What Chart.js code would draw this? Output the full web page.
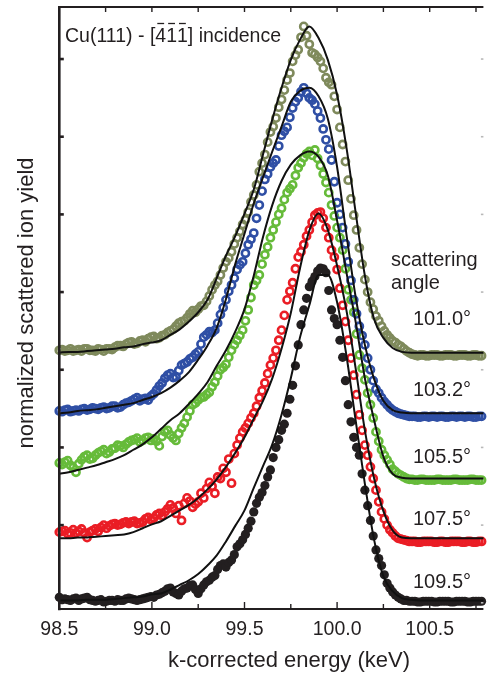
<!DOCTYPE html>
<html>
<head>
<meta charset="utf-8">
<script src="https://cdn.jsdelivr.net/npm/chart.js@4.4.1/dist/chart.umd.min.js"></script>
<style>
  html, body { margin: 0; padding: 0; background: #ffffff; }
  canvas { display: block; }
</style>
</head>
<body>
<canvas id="c" width="490" height="673"></canvas>
<script>
// ---------- data ----------
// measured points: two interleaved energy readings per spectrum
const energyA = [98.50,98.53,98.56,98.59,98.62,98.65,98.68,98.71,98.74,98.77,
  98.80,98.83,98.86,98.89,98.92,98.95,98.98,99.01,99.04,99.07,
  99.10,99.13,99.16,99.19,99.22,99.25,99.28,99.31,99.34,99.37,
  99.40,99.43,99.46,99.49,99.52,99.55,99.58,99.61,99.64,99.67,
  99.70,99.73,99.76,99.79,99.82,99.85,99.88,99.91,99.94,99.97,
  100.00,100.03,100.06,100.09,100.12,100.15,100.18,100.21,100.24,100.27,
  100.30,100.33,100.36,100.39,100.42,100.45,100.48,100.51,100.54,100.57,
  100.60,100.63,100.66,100.69,100.72,100.75,100.78];
const energyB = [98.515,98.545,98.575,98.605,98.635,98.665,98.695,98.725,98.755,98.785,
  98.815,98.845,98.875,98.905,98.935,98.965,98.995,99.025,99.055,99.085,
  99.115,99.145,99.175,99.205,99.235,99.265,99.295,99.325,99.355,99.385,
  99.415,99.445,99.475,99.505,99.535,99.565,99.595,99.625,99.655,99.685,
  99.715,99.745,99.775,99.805,99.835,99.865,99.895,99.925,99.955,99.985,
  100.015,100.045,100.075,100.105,100.135,100.165,100.195,100.225,100.255,100.285,
  100.315,100.345,100.375,100.405,100.435,100.465,100.495,100.525,100.555,100.585,
  100.615,100.645,100.675,100.705,100.735,100.765];

// fitted curves
const fitEnergy = [98.50,98.55,98.60,98.65,98.70,98.75,98.80,98.85,98.90,98.95,
  99.00,99.05,99.10,99.15,99.20,99.25,99.30,99.35,99.40,99.45,
  99.50,99.55,99.60,99.65,99.70,99.75,99.80,99.85,99.90,99.95,
  100.00,100.05,100.10,100.15,100.20,100.25,100.30,100.35,100.40,100.45,
  100.50,100.55,100.60,100.65,100.70,100.75,100.80];

// 101.0°
const points101a = [3.25,3.24,3.27,3.25,3.24,3.27,3.25,3.27,3.24,3.27,
  3.29,3.31,3.33,3.36,3.34,3.38,3.40,3.43,3.41,3.45,
  3.50,3.56,3.62,3.67,3.76,3.78,3.83,3.95,4.09,4.22,
  4.39,4.52,4.70,4.87,5.03,5.25,5.55,5.77,6.06,6.24,
  6.48,6.73,6.97,7.12,7.42,7.19,7.06,6.97,6.76,6.67,
  6.35,5.90,5.44,4.99,4.57,4.16,3.87,3.69,3.56,3.45,
  3.37,3.32,3.27,3.22,3.19,3.19,3.18,3.19,3.19,3.18,
  3.19,3.18,3.19,3.19,3.18,3.19,3.18];
const points101b = [3.26,3.25,3.24,3.26,3.27,3.25,3.24,3.26,3.27,3.26,
  3.31,3.30,3.35,3.33,3.37,3.36,3.42,3.40,3.44,3.48,
  3.52,3.60,3.63,3.72,3.74,3.82,3.88,4.03,4.14,4.31,
  4.44,4.62,4.78,4.93,5.16,5.38,5.66,5.93,6.13,6.38,
  6.60,6.82,7.05,7.28,7.30,7.08,7.02,6.88,6.70,6.52,
  6.12,5.68,5.20,4.80,4.36,4.00,3.78,3.63,3.50,3.41,
  3.35,3.30,3.24,3.20,3.18,3.19,3.18,3.19,3.18,3.19,
  3.19,3.18,3.19,3.18,3.19,3.18];
const fit101 = [3.22,3.23,3.23,3.24,3.25,3.26,3.27,3.29,3.30,3.33,
  3.35,3.38,3.45,3.52,3.62,3.74,3.90,4.18,4.47,4.72,
  5.01,5.32,5.77,6.22,6.63,6.99,7.25,7.42,7.27,6.99,
  6.54,5.87,5.03,4.21,3.65,3.41,3.28,3.23,3.22,3.22,
  3.22,3.22,3.22,3.22,3.22,3.22,3.22];

// 103.2°
const points103a = [2.47,2.48,2.46,2.48,2.49,2.48,2.51,2.49,2.52,2.51,
  2.53,2.52,2.57,2.60,2.64,2.62,2.61,2.69,2.79,2.89,
  2.95,2.91,3.06,3.10,3.16,3.23,3.42,3.49,3.51,3.71,
  3.90,4.09,4.29,4.39,4.61,4.76,5.12,5.45,5.61,5.70,
  6.02,6.12,6.37,6.50,6.63,6.50,6.42,6.24,5.96,5.70,
  5.15,4.83,4.39,3.90,3.56,3.32,3.00,2.75,2.64,2.55,
  2.48,2.44,2.42,2.40,2.40,2.39,2.40,2.40,2.39,2.40,
  2.39,2.40,2.40,2.39,2.40,2.39,2.40];
const points103b = [2.46,2.49,2.47,2.47,2.50,2.49,2.50,2.51,2.50,2.53,
  2.51,2.55,2.58,2.62,2.60,2.63,2.66,2.74,2.83,2.93,
  2.90,2.99,3.08,3.14,3.20,3.33,3.45,3.48,3.60,3.80,
  4.01,4.18,4.35,4.50,4.68,4.95,5.30,5.52,5.66,5.88,
  6.07,6.25,6.45,6.58,6.56,6.47,6.33,6.10,5.84,5.42,
  5.00,4.62,4.15,3.72,3.44,3.15,2.86,2.70,2.59,2.51,
  2.46,2.43,2.41,2.40,2.39,2.40,2.39,2.40,2.40,2.39,
  2.40,2.39,2.40,2.40,2.39,2.40];
const fit103 = [2.44,2.45,2.47,2.48,2.49,2.51,2.53,2.55,2.57,2.61,
  2.65,2.70,2.77,2.86,2.97,3.13,3.31,3.54,3.91,4.36,
  4.75,5.14,5.48,5.81,6.13,6.45,6.59,6.63,6.52,6.23,
  5.61,4.75,3.94,3.32,2.88,2.60,2.48,2.45,2.44,2.44,
  2.44,2.44,2.44,2.44,2.44,2.44,2.44];

// 105.5°
const points105a = [1.80,1.81,1.77,1.68,1.84,1.90,1.86,1.93,1.97,1.94,
  1.99,2.02,2.04,2.09,2.12,2.09,2.13,2.11,2.02,2.20,
  2.16,2.09,2.25,2.39,2.55,2.61,2.65,2.71,2.84,3.00,
  3.07,3.25,3.38,3.51,3.77,4.09,4.22,4.48,4.70,4.90,
  5.08,5.28,5.38,5.60,5.73,5.81,5.83,5.63,5.41,5.12,
  4.83,4.54,4.03,3.74,3.19,2.87,2.55,2.20,1.97,1.84,
  1.72,1.66,1.62,1.59,1.58,1.59,1.58,1.58,1.59,1.58,
  1.58,1.59,1.58,1.58,1.59,1.58,1.58];
const points105b = [1.78,1.83,1.74,1.79,1.88,1.85,1.90,1.95,1.92,1.98,
  2.03,2.00,2.07,2.10,2.07,2.12,2.09,2.08,2.14,2.22,
  2.12,2.18,2.31,2.47,2.57,2.64,2.68,2.78,2.92,3.03,
  3.16,3.32,3.44,3.63,3.93,4.15,4.36,4.58,4.80,5.00,
  5.19,5.33,5.50,5.66,5.78,5.76,5.72,5.52,5.28,4.98,
  4.70,4.30,3.90,3.46,3.02,2.70,2.38,2.08,1.90,1.78,
  1.69,1.64,1.60,1.59,1.58,1.59,1.58,1.58,1.59,1.58,
  1.58,1.59,1.58,1.58,1.59,1.58];
const fit105 = [1.66,1.68,1.71,1.74,1.77,1.81,1.85,1.90,1.97,2.04,
  2.13,2.24,2.35,2.44,2.56,2.69,2.84,3.05,3.25,3.49,
  3.78,4.21,4.71,5.12,5.43,5.64,5.76,5.81,5.74,5.50,
  4.92,4.26,3.62,2.89,2.35,1.88,1.66,1.61,1.60,1.60,
  1.60,1.60,1.60,1.60,1.60,1.60,1.60];

// 107.5°
const points107a = [0.91,0.93,0.90,0.90,0.95,0.84,0.93,0.92,1.00,0.99,
  1.02,1.01,1.04,1.04,1.02,1.04,1.10,1.09,1.15,1.17,
  1.26,1.15,1.06,1.35,1.23,1.30,1.35,1.55,1.41,1.60,
  1.68,1.54,2.03,2.20,2.31,2.44,2.64,2.83,3.06,3.25,
  3.51,3.90,4.12,4.45,4.61,4.80,4.99,5.03,4.83,4.54,
  4.29,3.83,3.38,2.93,2.42,2.03,1.75,1.45,1.17,1.00,
  0.90,0.83,0.81,0.79,0.79,0.78,0.79,0.79,0.78,0.79,
  0.78,0.79,0.79,0.78,0.79,0.78,0.79];
const points107b = [0.92,0.89,0.94,0.92,0.90,0.91,0.95,0.97,0.96,1.01,
  1.00,1.03,1.02,1.05,1.03,1.08,1.07,1.13,1.12,1.21,
  1.22,1.25,1.28,1.31,1.27,1.41,1.47,1.50,1.62,1.73,
  1.85,1.92,2.12,2.25,2.38,2.53,2.73,2.95,3.15,3.38,
  3.70,4.01,4.30,4.52,4.72,4.90,5.02,4.95,4.70,4.45,
  4.05,3.62,3.15,2.68,2.22,1.90,1.60,1.30,1.08,0.94,
  0.86,0.82,0.80,0.79,0.78,0.79,0.79,0.78,0.79,0.78,
  0.79,0.79,0.78,0.79,0.78,0.79];
const fit107 = [0.83,0.83,0.84,0.84,0.85,0.86,0.87,0.88,0.91,0.96,
  1.01,1.05,1.12,1.19,1.26,1.35,1.46,1.59,1.75,1.93,
  2.13,2.37,2.60,2.89,3.27,3.73,4.31,4.79,5.01,4.80,
  4.34,3.77,3.02,2.22,1.60,1.18,0.93,0.84,0.83,0.83,
  0.83,0.83,0.83,0.83,0.83,0.83,0.83];

// 109.5°
const points109a = [0.07,0.05,0.03,0.06,0.05,0.07,0.03,0.03,0.01,0.03,
  0.02,0.03,0.05,0.05,0.03,0.05,0.07,0.07,0.11,0.15,
  0.19,0.12,0.15,0.19,0.23,0.12,0.23,0.29,0.35,0.48,
  0.46,0.55,0.72,0.81,0.96,1.17,1.36,1.51,1.71,2.00,
  2.22,2.44,2.80,3.32,3.77,4.07,4.20,4.31,4.25,3.77,
  3.58,3.16,2.55,2.13,1.90,1.45,1.06,0.68,0.48,0.25,
  0.14,0.07,0.03,0.02,0.02,0.01,0.02,0.02,0.01,0.02,
  0.02,0.01,0.02,0.02,0.01,0.02,0.02];
const points109b = [0.04,0.04,0.05,0.03,0.06,0.04,0.02,0.04,0.02,0.03,
  0.04,0.03,0.06,0.04,0.04,0.06,0.08,0.10,0.13,0.18,
  0.14,0.10,0.18,0.22,0.17,0.18,0.27,0.33,0.43,0.50,
  0.52,0.62,0.76,0.88,1.05,1.28,1.42,1.62,1.87,2.10,
  2.30,2.62,3.05,3.58,3.92,4.14,4.27,4.30,4.02,3.66,
  3.38,2.86,2.33,2.00,1.66,1.25,0.86,0.57,0.36,0.19,
  0.10,0.05,0.03,0.02,0.01,0.02,0.02,0.01,0.02,0.02,
  0.01,0.02,0.02,0.01,0.02,0.02];
const fit109 = [0.03,0.03,0.03,0.04,0.04,0.04,0.05,0.06,0.07,0.08,
  0.11,0.12,0.17,0.23,0.29,0.37,0.48,0.61,0.79,0.99,
  1.19,1.48,1.76,2.04,2.42,2.89,3.42,3.83,4.22,4.22,
  3.87,3.19,2.35,1.53,0.81,0.34,0.15,0.06,0.04,0.03,
  0.03,0.03,0.03,0.03,0.03,0.03,0.03];

const angleLabels = ['101.0°', '103.2°', '105.5°', '107.5°', '109.5°'];
const xTickValues = [98.5, 99.0, 99.5, 100.0, 100.5];
const xMinorValues = [98.75, 99.25, 99.75, 100.25, 100.75];
const yTickValues = [0, 1, 2, 3, 4, 5, 6, 7];
const xTitle = 'k-corrected energy (keV)';
const yTitle = 'normalized scattered ion yield';

// ---------- styling ----------
const FONT = "'Liberation Sans', Arial, Helvetica, sans-serif";
const INK = '#231f20';
const seriesColors = ['#7f8a5c', '#2f4fa5', '#66bb3a', '#ea1d25', '#231f20'];

const pointSetsA = [points101a, points103a, points105a, points107a, points109a];
const pointSetsB = [points101b, points103b, points105b, points107b, points109b];
const fitSets = [fit101, fit103, fit105, fit107, fit109];

const datasets = [];
pointSetsA.forEach((valsA, i) => {
  const filled = i === 4;
  const pts = energyA.map((e, k) => ({x: e, y: valsA[k]}))
    .concat(energyB.map((e, k) => ({x: e, y: pointSetsB[i][k]})))
    .sort((p, q) => p.x - q.x);
  datasets.push({
    label: angleLabels[i] + ' data',
    data: pts,
    showLine: false,
    pointStyle: 'circle',
    pointRadius: filled ? 4.6 : 3.6,
    pointBorderWidth: filled ? 0 : 2.6,
    pointBorderColor: seriesColors[i],
    pointBackgroundColor: filled ? seriesColors[i] : 'rgba(255,255,255,0)',
    order: 2,
    clip: 8
  });
});
fitSets.forEach((vals, i) => {
  datasets.push({
    label: angleLabels[i] + ' fit',
    data: fitEnergy.map((e, k) => ({x: e, y: vals[k]})),
    showLine: true,
    borderColor: '#111111',
    borderWidth: 2,
    pointRadius: 0,
    fill: false,
    cubicInterpolationMode: 'monotone',
    order: 1
  });
});

const decorations = {
  id: 'decorations',
  afterDraw(chart) {
    const {ctx, chartArea: a, scales: {x, y}} = chart;
    ctx.save();
    ctx.strokeStyle = INK;
    ctx.lineCap = 'butt';
    // frame lines
    ctx.lineWidth = 2.6;
    ctx.beginPath(); ctx.moveTo(a.left, a.top - 1); ctx.lineTo(a.left, a.bottom + 1.2); ctx.stroke();
    ctx.lineWidth = 2.2;
    ctx.beginPath(); ctx.moveTo(a.left - 1.3, a.bottom); ctx.lineTo(a.right, a.bottom); ctx.stroke();
    ctx.lineWidth = 1.8;
    ctx.beginPath(); ctx.moveTo(a.left - 1.3, a.top); ctx.lineTo(a.right, a.top); ctx.stroke();
    // x ticks (inward)
    ctx.lineWidth = 1.4;
    xTickValues.concat(xMinorValues).forEach(v => {
      const px = x.getPixelForValue(v);
      const major = xTickValues.includes(v);
      ctx.beginPath(); ctx.moveTo(px, a.bottom); ctx.lineTo(px, a.bottom - (major ? 7 : 5)); ctx.stroke();
      ctx.beginPath(); ctx.moveTo(px, a.top); ctx.lineTo(px, a.top + 5); ctx.stroke();
    });
    // y ticks (inward)
    yTickValues.forEach(v => {
      const py = y.getPixelForValue(v);
      ctx.strokeStyle = INK; ctx.lineWidth = 2.6;
      ctx.beginPath(); ctx.moveTo(a.left, py); ctx.lineTo(a.left + 4.5, py); ctx.stroke();
      ctx.strokeStyle = '#b8b8b8'; ctx.lineWidth = 1.6;
      ctx.beginPath(); ctx.moveTo(a.right, py); ctx.lineTo(a.right - 2.5, py); ctx.stroke();
    });
    // texts
    ctx.fillStyle = INK;
    ctx.textBaseline = 'alphabetic';
    ctx.font = '19.5px ' + FONT;
    ctx.textAlign = 'left';
    const parts = ['Cu(111) - [', '4', '1', '1', '] incidence'];
    let tx = 65; const ty = 42;
    parts.forEach((p, k) => {
      const w = ctx.measureText(p).width;
      ctx.fillText(p, tx, ty);
      if (k >= 1 && k <= 3) {
        ctx.lineWidth = 1.3; ctx.strokeStyle = INK;
        ctx.beginPath(); ctx.moveTo(tx + 2, ty - 18.5); ctx.lineTo(tx + w - 2, ty - 18.5); ctx.stroke();
      }
      tx += w;
    });
    ctx.font = '20px ' + FONT;
    ctx.fillText('scattering', 391, 266);
    ctx.fillText('angle', 391, 289);
    ctx.textAlign = 'right';
    const baselines = [325, 396, 463, 525, 588];
    angleLabels.forEach((t, k) => ctx.fillText(t, 471, baselines[k]));
    // axis titles
    ctx.font = '22px ' + FONT;
    ctx.textAlign = 'center';
    ctx.fillText(xTitle, 289, 667);
    ctx.save();
    ctx.translate(33, 303);
    ctx.rotate(-Math.PI / 2);
    ctx.fillText(yTitle, 0, 0);
    ctx.restore();
    ctx.restore();
  }
};

new Chart(document.getElementById('c'), {
  type: 'scatter',
  data: { datasets },
  options: {
    responsive: false,
    animation: false,
    devicePixelRatio: 1,
    layout: { padding: { top: 7, right: 0, left: 0, bottom: 0 } },
    plugins: { legend: { display: false }, tooltip: { enabled: false } },
    scales: {
      x: {
        type: 'linear', min: 98.5, max: 100.79,
        afterBuildTicks: s => { s.ticks = xTickValues.map(v => ({ value: v })); },
        afterFit: s => { s.height = 64; },
        ticks: { callback: v => Number(v).toFixed(1), font: { family: FONT, size: 19.5 }, color: INK, padding: 9, maxRotation: 0, autoSkip: false },
        grid: { display: false, drawTicks: false },
        border: { display: false },
        title: { display: false }
      },
      y: {
        type: 'linear', min: -0.08, max: 7.67,
        afterBuildTicks: s => { s.ticks = yTickValues.map(v => ({ value: v })); },
        afterFit: s => { s.width = 59.3; },
        ticks: { display: false },
        grid: { display: false, drawTicks: false },
        border: { display: false },
        title: { display: false }
      }
    }
  },
  plugins: [decorations]
});
</script>
</body>
</html>
